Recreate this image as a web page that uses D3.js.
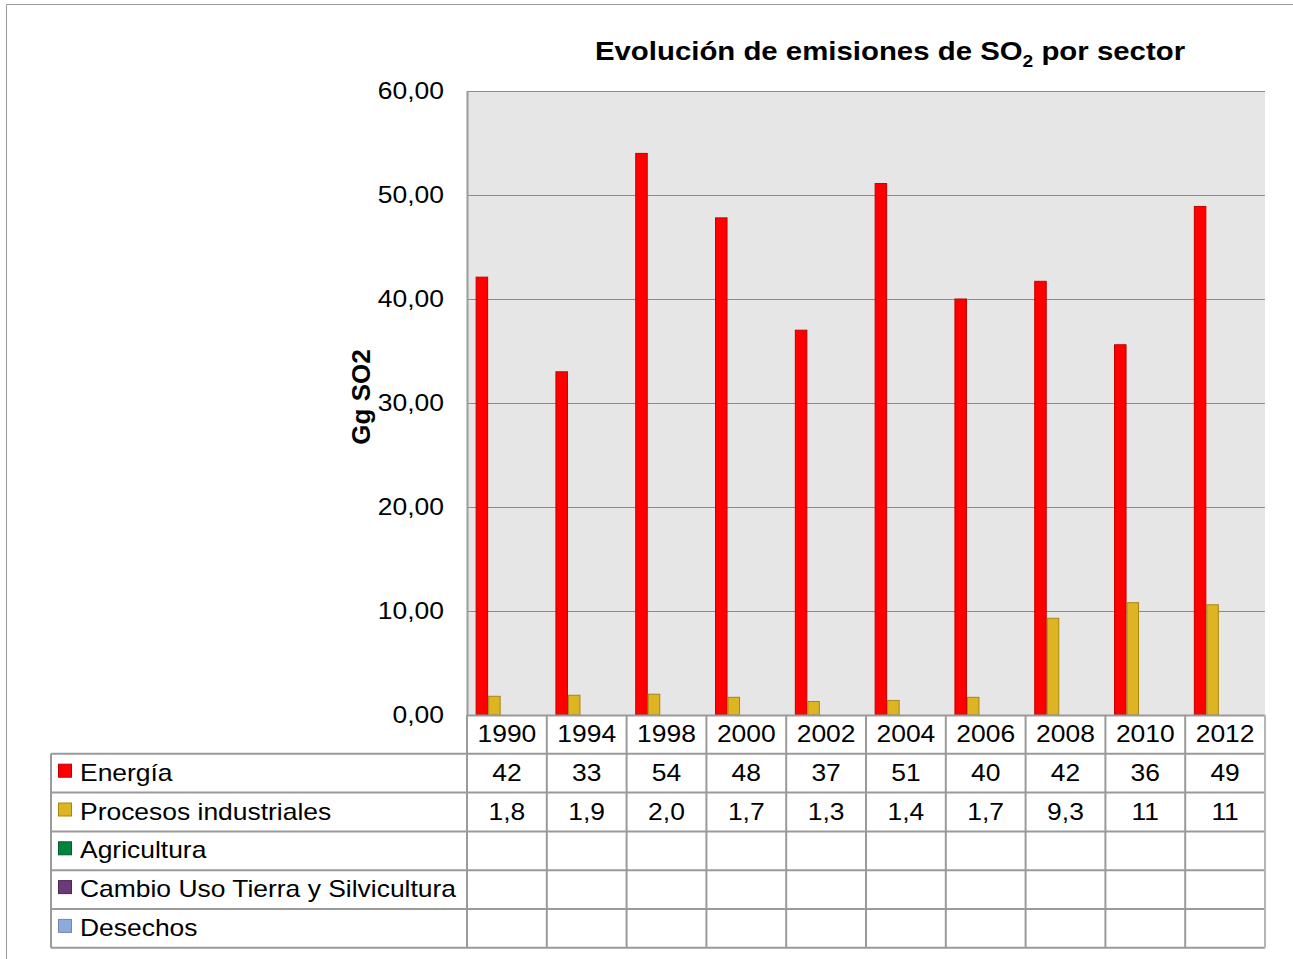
<!DOCTYPE html>
<html>
<head>
<meta charset="utf-8">
<script src="https://d3js.org/d3.v7.min.js"></script>
<style>
  body { margin: 0; background: #fff; }
  svg { font-family: "Liberation Sans", Arial, sans-serif; }
</style>
</head>
<body>
<svg id="chart" width="1293" height="959"></svg>
<script>
// data
var years = ["1990", "1994", "1998", "2000", "2002", "2004", "2006", "2008", "2010", "2012"];
var sectors = ["Energía", "Procesos industriales", "Agricultura", "Cambio Uso Tierra y Silvicultura", "Desechos"];
var energia = [42.1, 33.0, 54.0, 47.8, 37.0, 51.1, 40.0, 41.7, 35.6, 48.9];
var procesos = [1.8, 1.9, 2.0, 1.7, 1.3, 1.4, 1.7, 9.3, 10.8, 10.6];
var agricultura = [];
var cambioUso = [];
var desechos = [];
var tableEnergia = ["42", "33", "54", "48", "37", "51", "40", "42", "36", "49"];
var tableProcesos = ["1,8", "1,9", "2,0", "1,7", "1,3", "1,4", "1,7", "9,3", "11", "11"];
var yTicks = [0, 10, 20, 30, 40, 50, 60];

var fills = ["#ff0000", "#ddb422", "#00843d", "#6b3a7a", "#8eaadb"];
var strokes = ["#c00000", "#a8860e", "#005f2b", "#4b2656", "#6b88b8"];
var series = [energia, procesos, agricultura, cambioUso, desechos];
var tableRows = [tableEnergia, tableProcesos, [], [], []];

var svg = d3.select("#chart");

var plot = { left: 467, right: 1265, top: 91, bottom: 715 };
var rowH = 38.8;
var legendLeft = 51;
var sx = 1.15;   // the original text is a bit wide

// text helper: slightly stretched horizontally
function label(g, x, y, str, size, anchor, bold) {
  return g.append("text")
    .attr("transform", "translate(" + x + "," + y + ") scale(" + sx + ",1)")
    .attr("text-anchor", anchor || "start")
    .attr("font-size", size + "px")
    .attr("font-weight", bold ? "bold" : "normal")
    .attr("fill", "#000")
    .text(str);
}

// outer chart border
svg.append("path")
  .attr("d", "M6.5,959 V4.5 H1293")
  .attr("fill", "none")
  .attr("stroke", "#9a9a9a")
  .attr("stroke-width", 1);

var x = d3.scaleBand().domain(years).range([plot.left, plot.right]);
var y = d3.scaleLinear().domain([0, 60]).range([plot.bottom, plot.top]);

// plot background
svg.append("rect")
  .attr("x", plot.left).attr("y", plot.top)
  .attr("width", plot.right - plot.left).attr("height", plot.bottom - plot.top)
  .attr("fill", "#e6e6e6");

// gridlines
svg.append("g").selectAll("line")
  .data(yTicks.filter(function (d) { return d > 0; }))
  .enter().append("line")
  .attr("x1", plot.left).attr("x2", plot.right)
  .attr("y1", function (d) { return Math.round(y(d)) + 0.5; })
  .attr("y2", function (d) { return Math.round(y(d)) + 0.5; })
  .attr("stroke", "#8c8c8c")
  .attr("stroke-width", 1);

// y axis line
svg.append("line")
  .attr("x1", plot.left + 0.5).attr("x2", plot.left + 0.5)
  .attr("y1", plot.top).attr("y2", plot.bottom)
  .attr("stroke", "#9a9a9a").attr("stroke-width", 2);

// y tick labels
var fmt = function (d) { return d3.format(".2f")(d).replace(".", ","); };
var tg = svg.append("g");
yTicks.forEach(function (d) {
  label(tg, 444, y(d) + 8, fmt(d), 23, "end");
});

// y axis title
svg.append("text")
  .attr("transform", "translate(370,397) rotate(-90)")
  .attr("text-anchor", "middle")
  .attr("font-size", "26px")
  .attr("font-weight", "bold")
  .text("Gg SO2");

// chart title
var title = svg.append("text")
  .attr("transform", "translate(890,60) scale(1.13,1)")
  .attr("text-anchor", "middle")
  .attr("font-size", "26px")
  .attr("font-weight", "bold");
title.append("tspan").text("Evolución de emisiones de SO");
title.append("tspan").attr("font-size", "17px").attr("dy", 7).text("2");
title.append("tspan").attr("dy", -7).text(" por sector");

// bars: 5 clustered series per year
var bw = x.bandwidth();
var barW = bw / (5 + 1.38);
var gap = (bw - 5 * barW) / 2;
series.forEach(function (vals, si) {
  svg.append("g").selectAll("rect")
    .data(vals)
    .enter().append("rect")
    .attr("x", function (d, i) { return x(years[i]) + gap + si * barW + 0.5; })
    .attr("y", function (d) { return y(d); })
    .attr("width", barW - 1)
    .attr("height", function (d) { return y(0) - y(d); })
    .attr("fill", fills[si])
    .attr("stroke", strokes[si])
    .attr("stroke-width", 1);
});

// data table
var tbl = svg.append("g");
var tableBottom = plot.bottom + rowH * 6;
// x-axis baseline
tbl.append("line")
  .attr("x1", plot.left).attr("x2", plot.right)
  .attr("y1", plot.bottom + 0.5).attr("y2", plot.bottom + 0.5)
  .attr("stroke", "#9a9a9a").attr("stroke-width", 2);
// horizontal rules
d3.range(1, 7).forEach(function (r) {
  tbl.append("line")
    .attr("x1", legendLeft).attr("x2", plot.right)
    .attr("y1", plot.bottom + r * rowH).attr("y2", plot.bottom + r * rowH)
    .attr("stroke", "#9a9a9a").attr("stroke-width", 2);
});
// vertical rules
years.forEach(function (yr) {
  tbl.append("line")
    .attr("x1", x(yr)).attr("x2", x(yr))
    .attr("y1", plot.bottom).attr("y2", tableBottom)
    .attr("stroke", "#9a9a9a").attr("stroke-width", 2);
});
tbl.append("line")
  .attr("x1", plot.right).attr("x2", plot.right)
  .attr("y1", plot.bottom).attr("y2", tableBottom)
  .attr("stroke", "#b4b4b4").attr("stroke-width", 2);
tbl.append("line")
  .attr("x1", legendLeft).attr("x2", legendLeft)
  .attr("y1", plot.bottom + rowH).attr("y2", tableBottom)
  .attr("stroke", "#9a9a9a").attr("stroke-width", 2);

// year header
years.forEach(function (yr) {
  label(tbl, x(yr) + bw / 2, plot.bottom + rowH / 2 + 8, yr, 23, "middle");
});

// legend column + values
sectors.forEach(function (s, si) {
  var cy = plot.bottom + rowH * (si + 1) + rowH / 2;
  tbl.append("rect")
    .attr("x", 58.5).attr("y", cy - 9)
    .attr("width", 13).attr("height", 13)
    .attr("fill", fills[si])
    .attr("stroke", strokes[si]).attr("stroke-width", 1);
  label(tbl, 80, cy + 7.5, s, 23, "start");
  tableRows[si].forEach(function (d, i) {
    label(tbl, x(years[i]) + bw / 2, cy + 7.5, d, 23, "middle");
  });
});
</script>
</body>
</html>
